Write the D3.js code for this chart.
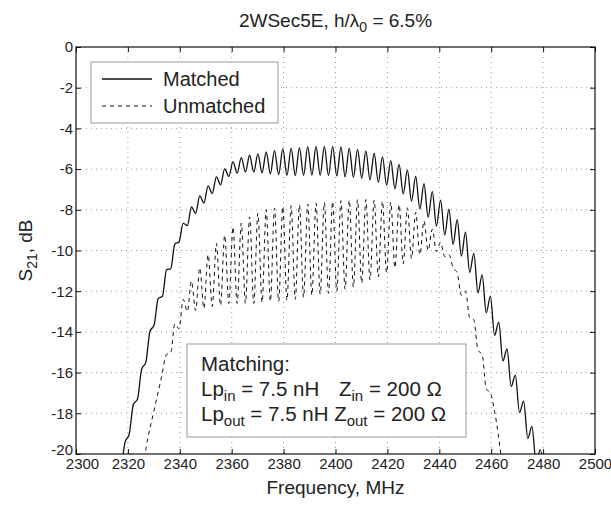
<!DOCTYPE html>
<html lang="en">
<head>
  <meta charset="utf-8">
  <title>2WSec5E S21</title>
  <script src="https://d3js.org/d3.v7.min.js"></script>
  <style>
    body { margin: 0; background: #fff; }
    svg text { font-family: "Liberation Sans", Arial, Helvetica, sans-serif; fill: #222; }
  </style>
</head>
<body>
<div id="chart"></div>
<script>
// ticks
const xTicks = [2300, 2320, 2340, 2360, 2380, 2400, 2420, 2440, 2460, 2480, 2500];
const yTicks = [0, -2, -4, -6, -8, -10, -12, -14, -16, -18, -20];

// matched curve at ripple peaks / troughs
const matchedFreq = [2317.3,
  2318.9, 2320.5, 2322.1, 2323.7, 2325.3, 2326.9, 2328.5, 2330.1, 2331.7, 2333.3,
  2334.9, 2336.5, 2338.1, 2339.7, 2341.3, 2342.9, 2344.5, 2346.1, 2347.7, 2349.3,
  2350.9, 2352.5, 2354.1, 2355.7, 2357.3, 2358.9, 2360.5, 2362.1, 2363.7, 2365.3,
  2366.9, 2368.5, 2370.1, 2371.7, 2373.3, 2374.9, 2376.5, 2378.1, 2379.7, 2381.3,
  2382.9, 2384.5, 2386.1, 2387.7, 2389.3, 2390.9, 2392.5, 2394.1, 2395.7, 2397.3,
  2398.9, 2400.5, 2402.1, 2403.7, 2405.3, 2406.9, 2408.5, 2410.1, 2411.7, 2413.3,
  2414.9, 2416.5, 2418.1, 2419.7, 2421.3, 2422.9, 2424.5, 2426.1, 2427.7, 2429.3,
  2430.9, 2432.5, 2434.1, 2435.7, 2437.3, 2438.9, 2440.5, 2442.1, 2443.7, 2445.3,
  2446.9, 2448.5, 2450.1, 2451.7, 2453.3, 2454.9, 2456.5, 2458.1, 2459.7, 2461.3,
  2462.9, 2464.5, 2466.1, 2467.7, 2469.3, 2470.9, 2472.5, 2474.1, 2475.7, 2477.3,
  2478.9, 2480.5];
const matchedS21 = [-21.0,
  -19.43, -19.03, -17.57, -17.30, -15.83, -15.50, -13.97, -13.66, -12.35, -12.25,
  -10.94, -10.90, -9.68, -9.58, -8.65, -8.78, -7.86, -8.17, -7.32, -7.66,
  -6.82, -7.20, -6.38, -6.77, -5.99, -6.36, -5.63, -6.20, -5.44, -6.14,
  -5.32, -6.14, -5.25, -6.18, -5.16, -6.23, -5.09, -6.27, -5.01, -6.31,
  -4.97, -6.32, -4.94, -6.31, -4.90, -6.30, -4.89, -6.31, -4.88, -6.32,
  -4.88, -6.33, -4.91, -6.38, -4.97, -6.41, -5.03, -6.45, -5.11, -6.53,
  -5.22, -6.65, -5.40, -6.79, -5.58, -6.97, -5.77, -7.22, -6.05, -7.57,
  -6.36, -7.96, -6.72, -8.37, -7.11, -8.80, -7.52, -9.24, -7.97, -9.70,
  -8.49, -10.28, -9.10, -11.07, -10.14, -12.08, -11.20, -13.06, -12.24, -14.17,
  -13.52, -15.43, -14.84, -16.68, -16.12, -17.96, -17.40, -19.24, -18.64, -20.40,
  -19.80, -21.0];

// unmatched curve
const unmatchedFreq = [2325.5, 2327.0, 2330.0, 2333.0,
  2334.9, 2336.5, 2338.1, 2339.7, 2341.3, 2342.9, 2344.5, 2346.1, 2347.7, 2349.3,
  2350.9, 2352.5, 2354.1, 2355.7, 2357.3, 2358.9, 2360.5, 2362.1, 2363.7, 2365.3,
  2366.9, 2368.5, 2370.1, 2371.7, 2373.3, 2374.9, 2376.5, 2378.1, 2379.7, 2381.3,
  2382.9, 2384.5, 2386.1, 2387.7, 2389.3, 2390.9, 2392.5, 2394.1, 2395.7, 2397.3,
  2398.9, 2400.5, 2402.1, 2403.7, 2405.3, 2406.9, 2408.5, 2410.1, 2411.7, 2413.3,
  2414.9, 2416.5, 2418.1, 2419.7, 2421.3, 2422.9, 2424.5, 2426.1, 2427.7, 2429.3,
  2430.9, 2432.5, 2434.1, 2435.7, 2437.3, 2438.9, 2440.5, 2442.1, 2443.7, 2445.3,
  2446.9, 2448.5, 2450.1, 2451.7, 2453.3, 2454.9, 2456.5, 2458.1, 2459.7, 2461.3,
  2462.9, 2465.0];
const unmatchedS21 = [-21.0, -19.7, -17.9, -16.2,
  -15.10, -15.03, -13.60, -13.85, -12.40, -13.00, -11.50, -12.95, -10.85, -12.85,
  -10.20, -12.75, -9.65, -12.70, -9.25, -12.60, -8.85, -12.60, -8.65, -12.60,
  -8.35, -12.60, -8.17, -12.55, -8.00, -12.50, -7.92, -12.50, -7.85, -12.45,
  -7.80, -12.40, -7.76, -12.30, -7.72, -12.20, -7.68, -12.15, -7.64, -12.10,
  -7.60, -12.00, -7.55, -11.90, -7.52, -11.80, -7.50, -11.60, -7.50, -11.45,
  -7.52, -11.30, -7.57, -11.10, -7.62, -10.85, -7.74, -10.65, -7.90, -10.40,
  -8.12, -10.20, -8.55, -10.00, -8.95, -10.05, -9.60, -10.30, -10.20, -10.85,
  -11.10, -12.20, -12.00, -13.30, -13.40, -14.90, -15.10, -16.80, -17.00, -17.90,
  -19.20, -21.5];

const W = 611, H = 508;
const margin = {top: 47, right: 16, bottom: 54, left: 76};
const width = W - margin.left - margin.right,
      height = H - margin.top - margin.bottom;

const svg = d3.select("#chart").append("svg")
    .attr("width", W).attr("height", H);
const g = svg.append("g")
    .attr("transform", `translate(${margin.left},${margin.top})`);

const x = d3.scaleLinear().domain([2300, 2500]).range([0, width]);
const y = d3.scaleLinear().domain([-20, 0]).range([height, 0]);

// dotted grid
g.append("g").selectAll("line")
  .data(xTicks.slice(1, -1)).join("line")
    .attr("x1", d => x(d)).attr("x2", d => x(d))
    .attr("y1", 0).attr("y2", height)
    .attr("stroke", "#999").attr("stroke-width", 1)
    .attr("stroke-dasharray", "1,4");
g.append("g").selectAll("line")
  .data(yTicks.slice(1, -1)).join("line")
    .attr("y1", d => y(d)).attr("y2", d => y(d))
    .attr("x1", 0).attr("x2", width)
    .attr("stroke", "#999").attr("stroke-width", 1)
    .attr("stroke-dasharray", "1,4");

// curves
svg.append("defs").append("clipPath").attr("id", "clip")
  .append("rect").attr("width", width).attr("height", height);

const line = d3.line()
    .x(d => x(d[0])).y(d => y(d[1]))
    .curve(d3.curveMonotoneX);

const curves = g.append("g").attr("clip-path", "url(#clip)");
curves.append("path")
    .datum(d3.zip(unmatchedFreq, unmatchedS21))
    .attr("d", line)
    .attr("fill", "none").attr("stroke", "#111")
    .attr("stroke-width", 1).attr("stroke-dasharray", "4,4");
curves.append("path")
    .datum(d3.zip(matchedFreq, matchedS21))
    .attr("d", line)
    .attr("fill", "none").attr("stroke", "#111")
    .attr("stroke-width", 1.3);

// axes, ticks pointing inward
const fmt = d => String(d);
g.append("g").attr("transform", `translate(0,${height})`)
  .call(d3.axisBottom(x).tickValues(xTicks).tickFormat(fmt)
        .tickSizeInner(-5).tickSizeOuter(0).tickPadding(4))
  .call(a => a.select(".domain").remove())
  .call(a => a.selectAll(".tick text").filter(d => d === 2300).attr("dx", 6));
g.append("g")
  .call(d3.axisLeft(y).tickValues(yTicks).tickFormat(fmt)
        .tickSizeInner(-5).tickSizeOuter(0).tickPadding(3))
  .call(a => a.select(".domain").remove())
  .call(a => a.selectAll(".tick text").filter(d => d === -20).attr("dy", "0.05em"));
g.append("g")
  .call(d3.axisTop(x).tickValues(xTicks).tickFormat("")
        .tickSizeInner(-5).tickSizeOuter(0))
  .call(a => a.select(".domain").remove());
g.append("g").attr("transform", `translate(${width},0)`)
  .call(d3.axisRight(y).tickValues(yTicks).tickFormat("")
        .tickSizeInner(-5).tickSizeOuter(0))
  .call(a => a.select(".domain").remove());
g.selectAll(".tick text").attr("font-size", 15).attr("fill", "#222");
g.selectAll(".tick line").attr("stroke", "#111");

g.append("rect")
    .attr("width", width).attr("height", height)
    .attr("fill", "none").attr("stroke", "#111").attr("stroke-width", 1.2);

// text with subscripts
function richText(sel, px, py, parts, size, subSize) {
  const t = sel.append("text").attr("x", px).attr("y", py).attr("font-size", size);
  let shift = 0;
  parts.forEach(p => {
    const s = t.append("tspan").text(p.t);
    if (p.x !== undefined) s.attr("x", p.x);
    const want = p.sub ? 5 : 0;
    if (want !== shift) { s.attr("dy", want - shift); shift = want; }
    if (p.sub) s.attr("font-size", subSize);
  });
  return t;
}

// title
richText(svg, 0, 27, [{t: "2WSec5E, h/\u03bb"}, {t: "0", sub: true}, {t: " = 6.5%"}], 19, 14)
  .attr("x", margin.left + width / 2).attr("text-anchor", "middle");

// axis labels
svg.append("text")
    .attr("x", margin.left + width / 2).attr("y", 494)
    .attr("text-anchor", "middle").attr("font-size", 19)
    .text("Frequency, MHz");
richText(svg, 0, 0, [{t: "S"}, {t: "21", sub: true}, {t: ", dB"}], 19, 14)
  .attr("text-anchor", "middle")
  .attr("transform", `translate(32,${margin.top + height / 2}) rotate(-90)`);

// legend
const leg = svg.append("g");
leg.append("rect").attr("x", 91).attr("y", 62).attr("width", 187).attr("height", 61)
    .attr("fill", "#fff").attr("stroke", "#999");
const legItems = [
  {name: "Matched", dash: null, w: 1.3},
  {name: "Unmatched", dash: "4,4", w: 1}
];
legItems.forEach((d, i) => {
  const yy = 79 + i * 27;
  leg.append("line").attr("x1", 102).attr("x2", 152).attr("y1", yy).attr("y2", yy)
      .attr("stroke", "#111").attr("stroke-width", d.w)
      .attr("stroke-dasharray", d.dash);
  leg.append("text").attr("x", 163).attr("y", yy + 7).attr("font-size", 20).text(d.name);
});

// matching annotation
const box = svg.append("g");
box.append("rect").attr("x", 187).attr("y", 344).attr("width", 279).attr("height", 93)
    .attr("fill", "#fff").attr("stroke", "#999");
box.append("text").attr("x", 201).attr("y", 371).attr("font-size", 20.5).text("Matching:");
richText(box, 201, 396, [
  {t: "Lp"}, {t: "in", sub: true}, {t: " = 7.5 nH"},
  {t: "Z", x: 339}, {t: "in", sub: true}, {t: " = 200 \u03a9"}
], 20.5, 15);
richText(box, 201, 421, [
  {t: "Lp"}, {t: "out", sub: true}, {t: " = 7.5 nH Z"}, {t: "out", sub: true}, {t: " = 200 \u03a9"}
], 20.5, 15);
</script>
</body>
</html>
